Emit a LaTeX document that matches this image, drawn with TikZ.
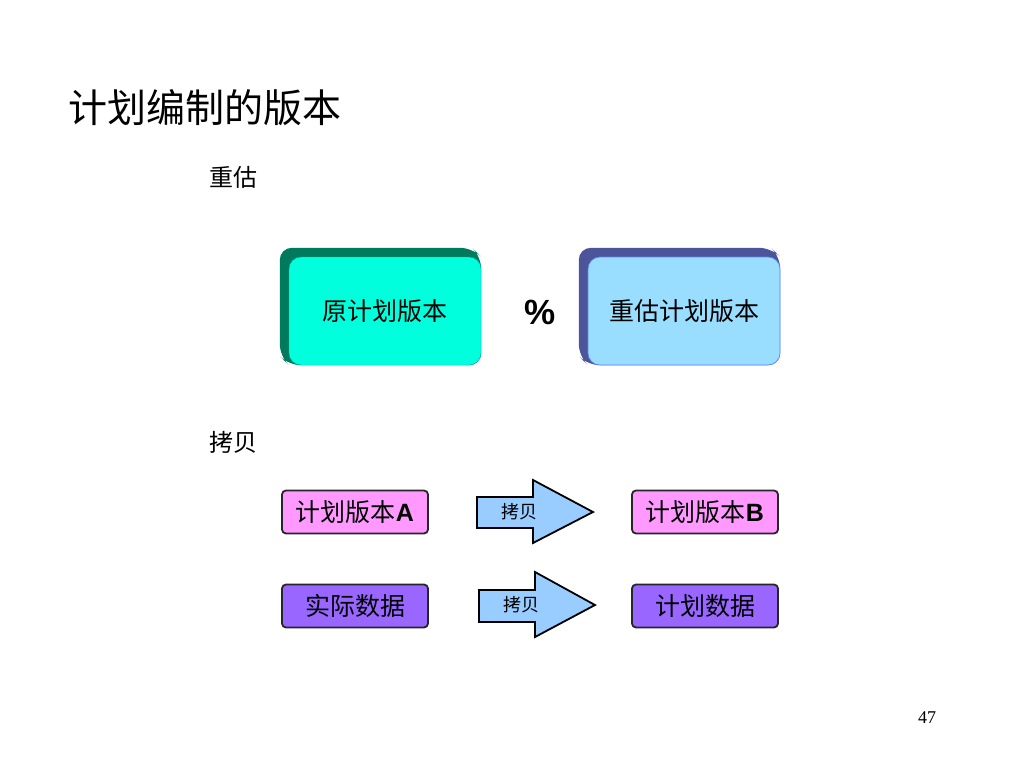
\documentclass[tikz,border=0pt]{standalone}
\usepackage{fontspec}
\setmainfont{Liberation Serif}
\newfontfamily\cjk{Noto Sans CJK SC}
\newfontfamily\arialfont{Liberation Sans}
\definecolor{frontgreen}{RGB}{0,255,221}
\definecolor{backgreen}{RGB}{0,122,92}
\definecolor{frontblue}{RGB}{153,221,255}
\definecolor{backblue}{RGB}{76,84,154}
\definecolor{pinkbox}{RGB}{255,153,255}
\definecolor{purplebox}{RGB}{153,102,255}
\definecolor{arrowblue}{RGB}{153,204,255}
\begin{document}
\begin{tikzpicture}[x=1pt, y=-1pt,
    bigbox/.style = {shape=rectangle, rounded corners=12pt, minimum width=192pt, minimum height=108pt,
                     inner sep=0pt, font=\cjk\fontsize{25}{30}\selectfont},
    smallbox/.style = {shape=rectangle, rounded corners=4pt, draw=black!85, line width=1.8pt,
                       minimum width=146pt, minimum height=43pt, inner sep=0pt,
                       font=\cjk\fontsize{25}{30}\selectfont},
    heading/.style = {anchor=west, inner sep=0pt, font=\cjk\fontsize{24}{28}\selectfont},
    copyarrow/.style = {fill=arrowblue, draw=black, line width=1.8pt, line join=miter}]
  \useasboundingbox (0,0) rectangle (1024,768);

  % title and headings
  \node[anchor=west, inner sep=0pt, font=\cjk\fontsize{39}{44}\selectfont] (title) at (68,108) {计划编制的版本};
  \node[heading] (reest) at (209,177) {重估};
  \node[heading] (copy) at (209,442) {拷贝};

  % re-estimate
  \node[bigbox] (orig) at (385,311) {};
  \fill[backgreen, rounded corners=12pt] ([shift={(-9,-9)}]orig.south west) -- ([shift={(-9,-9)}]orig.north west)
      -- ([shift={(-9,-9)}]orig.north east) -- (orig.north east) -- (orig.south east) -- (orig.south west) -- cycle;
  \node[bigbox, fill=frontgreen, draw=frontgreen!70!black, line width=0.4pt] at (orig) {原计划版本};

  \node[bigbox] (reestplan) at (684,311) {};
  \fill[backblue, rounded corners=12pt] ([shift={(-9,-9)}]reestplan.south west) -- ([shift={(-9,-9)}]reestplan.north west)
      -- ([shift={(-9,-9)}]reestplan.north east) -- (reestplan.north east) -- (reestplan.south east) -- (reestplan.south west) -- cycle;
  \node[bigbox, fill=frontblue, draw=frontblue!60!blue, line width=0.6pt] at (reestplan) {重估计划版本};

  \node[inner sep=0pt, font=\arialfont\bfseries\fontsize{35}{40}\selectfont] (pct) at (540,312) {\%};

  % copy
  \node[smallbox, fill=pinkbox] (planA) at (355,512) {计划版本{\arialfont\bfseries A}};
  \node[smallbox, fill=pinkbox] (planB) at (705,512) {计划版本{\arialfont\bfseries B}};
  \node[smallbox, fill=purplebox] (actual) at (355,606) {实际数据};
  \node[smallbox, fill=purplebox] (plandata) at (705,606) {计划数据};

  \draw[copyarrow] (477,497) -- (533,497) -- (533,480) -- (593,512) -- (533,543) -- (533,528) -- (477,528) -- cycle;
  \node[font=\cjk\fontsize{18}{22}\selectfont] (copyA) at (519,512) {拷贝};
  \draw[copyarrow] (479,590) -- (535,590) -- (535,572) -- (595,605) -- (535,637) -- (535,622) -- (479,622) -- cycle;
  \node[font=\cjk\fontsize{18}{22}\selectfont] (copyB) at (521,605) {拷贝};

  \node[font=\fontsize{18}{22}\selectfont] (page) at (927,718) {47};
\end{tikzpicture}
\end{document}
